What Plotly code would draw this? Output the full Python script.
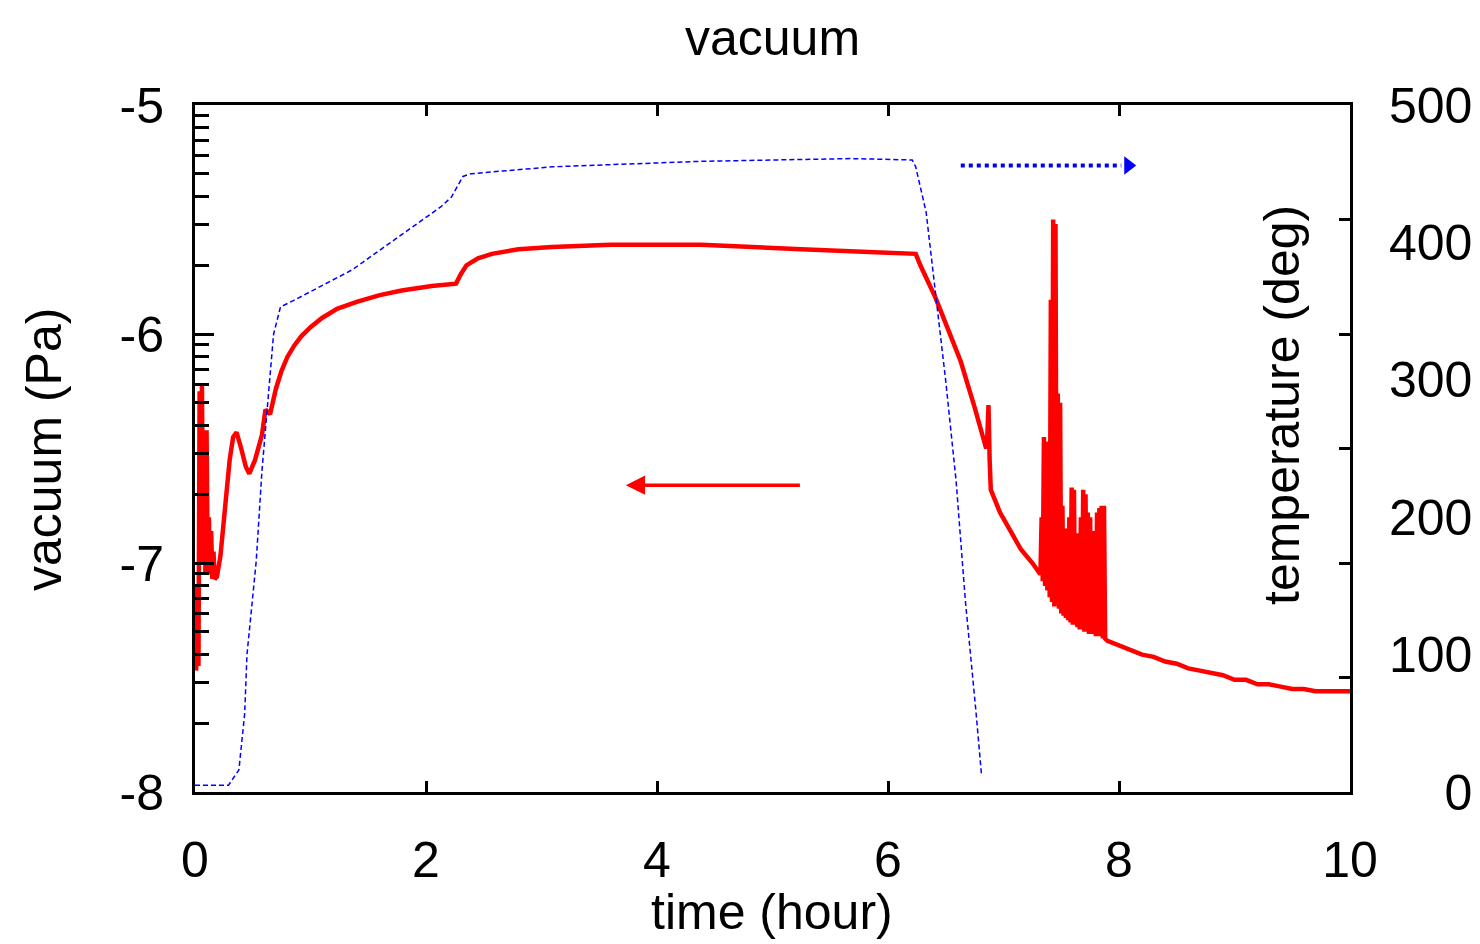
import plotly.graph_objects as go

# vacuum (log10 Pa) vs time (hour)
vac_time = [0.01, 0.02, 0.03, 0.04, 0.05, 0.06, 0.07, 0.08, 0.09, 0.10, 0.11, 0.12, 0.13, 0.14,
            0.15, 0.16, 0.17, 0.19, 0.22, 0.26, 0.30, 0.33, 0.36, 0.40, 0.44, 0.47, 0.52,
            0.58, 0.61, 0.65, 0.70, 0.75, 0.80, 0.86, 0.92, 1.00, 1.10, 1.23, 1.40, 1.60,
            1.79, 2.05, 2.26, 2.30, 2.35, 2.45, 2.57, 2.80, 3.09, 3.60, 4.38, 5.25, 5.80,
            6.24, 6.28, 6.34, 6.41, 6.52, 6.63, 6.75, 6.85, 6.86, 6.87, 6.88, 6.89, 6.93,
            6.97, 7.06, 7.15, 7.25, 7.32,
            7.33, 7.34, 7.35, 7.36, 7.37, 7.38, 7.39, 7.40, 7.41, 7.42, 7.43, 7.44, 7.45,
            7.46, 7.47, 7.48, 7.49, 7.50, 7.51, 7.52, 7.53, 7.54, 7.55, 7.56, 7.57, 7.58,
            7.59, 7.60, 7.61, 7.62, 7.63, 7.64, 7.65, 7.66, 7.67, 7.68, 7.69, 7.70, 7.71,
            7.72, 7.73, 7.74, 7.75, 7.76, 7.77, 7.78, 7.79, 7.80, 7.81, 7.82, 7.83, 7.84,
            7.85, 7.86, 7.87, 7.88, 7.90, 8.00, 8.10, 8.20, 8.30, 8.40, 8.50, 8.60, 8.70,
            8.80, 8.90, 9.00, 9.10, 9.20, 9.30, 9.40, 9.50, 9.60, 9.70, 9.80, 9.90, 10.00]
vac_log = [-7.47, -7.10, -7.45, -6.25, -7.00, -6.22, -6.95, -6.45, -7.05, -6.42, -7.02, -6.80,
           -7.05, -6.86, -7.07, -6.95, -7.07, -7.06, -6.97, -6.76, -6.55, -6.45, -6.43,
           -6.50, -6.58, -6.61, -6.55, -6.44, -6.33, -6.35, -6.24, -6.16, -6.10, -6.05,
           -6.01, -5.97, -5.93, -5.89, -5.86, -5.83, -5.81, -5.79, -5.78, -5.74, -5.70,
           -5.67, -5.65, -5.63, -5.62, -5.61, -5.61, -5.63, -5.64, -5.65, -5.70, -5.76,
           -5.84, -5.98, -6.12, -6.32, -6.50, -6.45, -6.31, -6.55, -6.68, -6.73, -6.78,
           -6.86, -6.94, -7.00, -7.05,
           -6.80, -7.08, -6.45, -7.10, -6.47, -7.12, -6.48, -7.15, -5.85, -7.17, -5.50,
           -7.19, -5.52, -7.18, -6.26, -7.20, -6.30, -7.22, -6.75, -7.23, -6.85, -7.24,
           -6.92, -7.25, -6.80, -7.26, -6.67, -7.27, -6.68, -7.27, -6.87, -7.28, -6.88,
           -7.29, -6.80, -7.29, -6.68, -7.30, -6.70, -7.30, -6.78, -7.31, -6.80, -7.31,
           -6.86, -7.31, -6.87, -7.32, -6.78, -7.32, -6.76, -7.32, -6.75, -7.33, -6.75,
           -7.33, -7.34, -7.36, -7.38, -7.40, -7.41, -7.43, -7.44, -7.46, -7.47, -7.48,
           -7.49, -7.51, -7.51, -7.53, -7.53, -7.54, -7.55, -7.55, -7.56, -7.56, -7.56, -7.56]

# temperature (deg) vs time (hour)
temp_time = [0.00, 0.29, 0.38, 0.43, 0.45, 0.53, 0.58, 0.62, 0.68, 0.74, 0.86, 1.36, 2.13,
             2.22, 2.32, 2.39, 3.09, 4.38, 5.25, 5.68, 6.21, 6.24, 6.33, 6.41, 6.50, 6.59,
             6.67, 6.76, 6.81]
temp_deg = [5, 5, 16, 57, 100, 168, 234, 275, 333, 353, 358, 380, 426, 433, 448, 450, 455,
            459, 460, 461, 460, 455, 422, 364, 299, 226, 139, 60, 12]

x_ticks = [0, 2, 4, 6, 8, 10]
vac_ticks = [-8, -7, -6, -5]
temp_ticks = [0, 100, 200, 300, 400, 500]

FONT = "Liberation Sans, Arial, sans-serif"
FS = 50

# page has a small body offset, so the plot box is placed to land at 193..1350 x 103..792
L, T, B, R = 187, 97, 160, 138
PW, PH = 1480 - L - R, 944 - T - B

fig = go.Figure()

fig.add_trace(go.Scatter(
    x=temp_time, y=temp_deg, yaxis="y2", mode="lines",
    line=dict(color="#0000ff", width=1.5, dash="5px,3px"), showlegend=False))

fig.add_trace(go.Scatter(
    x=vac_time, y=[10 ** v for v in vac_log], mode="lines",
    line=dict(color="#ff0000", width=4.5), showlegend=False))

# dotted arrow pointing to the temperature axis
fig.add_trace(go.Scatter(
    x=[6.63, 8.02], y=[456, 456], yaxis="y2", mode="lines",
    line=dict(color="#0000ff", width=4, dash="dot"), showlegend=False))
fig.add_trace(go.Scatter(
    x=[8.08], y=[456], yaxis="y2", mode="markers",
    marker=dict(symbol="triangle-right", size=16, color="#0000ff"), showlegend=False))

# minor ticks of the log axis
minor_vals = [k * 10.0 ** e for e in (-8, -7, -6) for k in range(2, 10)]

fig.update_layout(
    width=1480, height=944,
    margin=dict(l=L, r=R, t=T, b=B),
    paper_bgcolor="white", plot_bgcolor="white",
    font=dict(family=FONT, size=FS, color="black"),
    xaxis=dict(range=[0, 10], tickvals=x_ticks, ticks="inside", ticklen=11, tickwidth=3,
               tickcolor="black", showline=True, linewidth=3, linecolor="black",
               mirror="ticks", showgrid=False, zeroline=False, ticklabelstandoff=22,
               automargin=False),
    yaxis=dict(type="log", range=[-8, -5], tickvals=[10.0 ** v for v in vac_ticks],
               ticktext=[str(v) for v in vac_ticks], ticks="inside", ticklen=19, tickwidth=3,
               tickcolor="black", showline=True, linewidth=3, linecolor="black",
               minor=dict(tickvals=minor_vals, ticks="inside", ticklen=14, tickwidth=3,
                          tickcolor="black", showgrid=False),
               showgrid=False, zeroline=False, ticklabelstandoff=18, automargin=False),
    yaxis2=dict(overlaying="y", side="right", range=[0, 500], tickvals=temp_ticks,
                ticktext=[str(v).rjust(3, "\u2007") for v in temp_ticks], ticks="",
                showline=True, linewidth=3, linecolor="black",
                minor=dict(tickvals=[500 * k / 6 for k in range(1, 6)], ticks="inside",
                           ticklen=11, tickwidth=3, tickcolor="black", showgrid=False),
                showgrid=False, zeroline=False, ticklabelstandoff=26, automargin=False),
    annotations=[
        dict(text="vacuum", x=(770 - 193) / PW, y=1 + T / PH, xref="paper",
             yref="paper", xanchor="center", yanchor="top", showarrow=False,
             font=dict(size=FS)),
        dict(text="time (hour)", x=(770 - 193) / PW, y=(792 - 912) / PH, xref="paper",
             yref="paper", xanchor="center", yanchor="middle", showarrow=False,
             font=dict(size=FS)),
        dict(text="vacuum (Pa)", textangle=-90, x=(42 - 193) / PW, y=(792 - 450) / PH,
             xref="paper", yref="paper", xanchor="center", yanchor="middle",
             showarrow=False, font=dict(size=FS)),
        dict(text="temperature (deg)", textangle=-90, x=(1280 - 193) / PW,
             y=(792 - 405) / PH, xref="paper", yref="paper", xanchor="center",
             yanchor="middle", showarrow=False, font=dict(size=FS)),
        dict(x=3.73, y=-6.66, ax=5.25, ay=-6.66, xref="x", yref="y", axref="x", ayref="y",
             text="", showarrow=True, arrowhead=2, arrowsize=1.1, arrowwidth=3.5,
             arrowcolor="#ff0000"),
    ],
)

fig.write_html("out.html")
